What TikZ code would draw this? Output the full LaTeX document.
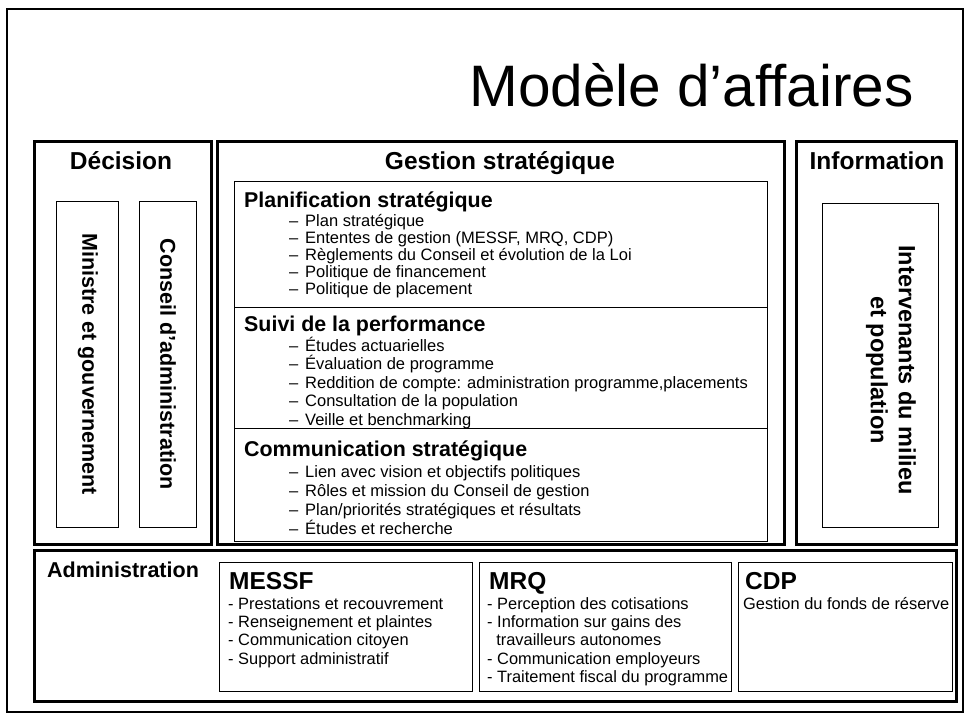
\documentclass[tikz,border=0pt]{standalone}
\usepackage{fontspec}
\setmainfont{Liberation Sans}
\begin{document}
\begin{tikzpicture}[x=1pt,y=-1pt,
  bigbox/.style={draw, line width=3pt, inner sep=0pt, anchor=north west},
  smallbox/.style={draw, line width=1.1pt, inner sep=0pt, anchor=north west},
  hdr/.style={font=\bfseries\fontsize{24.5}{28}\selectfont, inner sep=0pt, anchor=base},
  sechdr/.style={font=\bfseries\fontsize{21.4}{25}\selectfont, inner sep=0pt, anchor=base west},
  gitem/.style={font=\fontsize{16.5}{18}\selectfont, inner sep=0pt, anchor=base west},
  aitem/.style={font=\fontsize{16.4}{18}\selectfont, inner sep=0pt, anchor=base west},
  orghdr/.style={font=\bfseries\fontsize{24.5}{28}\selectfont, inner sep=0pt, anchor=base west},
  vtext/.style={font=\bfseries\fontsize{21.5}{24}\selectfont, rotate=-90, inner sep=0pt}
]
\useasboundingbox (0,0) rectangle (965,718);
% outer frame
\draw[line width=1.4pt] (7,9) rectangle (963,712);
% title
\node[font=\fontsize{58.5}{64}\selectfont, inner sep=0pt, anchor=base east] (title) at (914,106) {Modèle d’affaires};

% main boxes
\node[bigbox, minimum width=177pt, minimum height=403pt] (dec) at (33,140) {};
\node[bigbox, minimum width=567pt, minimum height=403pt] (ges) at (216,140) {};
\node[bigbox, minimum width=160pt, minimum height=403pt] (inf) at (795,140) {};
\node[bigbox, minimum width=922pt, minimum height=151pt] (adm) at (33,549) {};

% headers
\node[hdr] (dech) at (121,169) {Décision};
\node[hdr] (gesh) at (500,169) {Gestion stratégique};
\node[hdr] (infh) at (877,169) {Information};

% Decision inner boxes
\node[smallbox, minimum width=62pt, minimum height=326pt] (minb) at (56,201) {};
\node[smallbox, minimum width=57pt, minimum height=326pt] (conb) at (139,201) {};
\node[vtext] (mint) at (88,364) {Ministre et gouvernement};
\node[vtext] (cont) at (168,364) {Conseil d’administration};

% Information inner box
\node[smallbox, minimum width=116pt, minimum height=324pt] (intb) at (822,203) {};
\node[vtext, font=\bfseries\fontsize{23.5}{28}\selectfont, align=center] (intt) at (891,370) {Intervenants du milieu\\et population};

% Gestion sections
\node[smallbox, minimum width=533pt, minimum height=126pt] (plan) at (234,181) {};
\node[smallbox, minimum width=533pt, minimum height=121pt] (suiv) at (234,307) {};
\node[smallbox, minimum width=533pt, minimum height=113pt] (comm) at (234,428) {};

\node[sechdr] (planh) at (244,207) {Planification stratégique};
\foreach \t [count=\i] in {{Plan stratégique},{Ententes de gestion (MESSF, MRQ, CDP)},{Règlements du Conseil et évolution de la Loi},{Politique de financement},{Politique de placement}}
  \node[gitem] (pi\i) at (289,209+17*\i) {\makebox[16pt][l]{–}\t};

\node[sechdr] (suivh) at (244,331) {Suivi de la performance};
\foreach \t [count=\i] in {{Études actuarielles},{Évaluation de programme},{Reddition de compte: administration programme,placements},{Consultation de la population},{Veille et benchmarking}}
  \node[gitem] (si\i) at (289,332.5+18.5*\i) {\makebox[16pt][l]{–}\t};

\node[sechdr] (commh) at (244,456) {Communication stratégique};
\foreach \t [count=\i] in {{Lien avec vision et objectifs politiques},{Rôles et mission du Conseil de gestion},{Plan/priorités stratégiques et résultats},{Études et recherche}}
  \node[gitem] (ci\i) at (289,458+19*\i) {\makebox[16pt][l]{–}\t};

% Administration
\node[font=\bfseries\fontsize{21.5}{25}\selectfont, inner sep=0pt, anchor=base west] (admh) at (47,577) {Administration};
\node[smallbox, minimum width=253pt, minimum height=129pt] (messf) at (219,562) {};
\node[smallbox, minimum width=252pt, minimum height=129pt] (mrq) at (479,562) {};
\node[smallbox, minimum width=214pt, minimum height=129pt] (cdp) at (738,562) {};

\node[orghdr] (messfh) at (229,589) {MESSF};
\foreach \t [count=\i] in {{- Prestations et recouvrement},{- Renseignement et plaintes},{- Communication citoyen},{- Support administratif}}
  \node[aitem] (mi\i) at (228,591+18.3*\i) {\t};

\node[orghdr] (mrqh) at (489,589) {MRQ};
\foreach \t [count=\i] in {{- Perception des cotisations},{- Information sur gains des},{\ \ travailleurs autonomes},{- Communication employeurs},{- Traitement fiscal du programme}}
  \node[aitem] (ri\i) at (487,591+18.3*\i) {\t};

\node[orghdr] (cdph) at (745,589) {CDP};
\node[aitem] (cdpt) at (743,609) {Gestion du fonds de réserve};
\end{tikzpicture}
\end{document}
